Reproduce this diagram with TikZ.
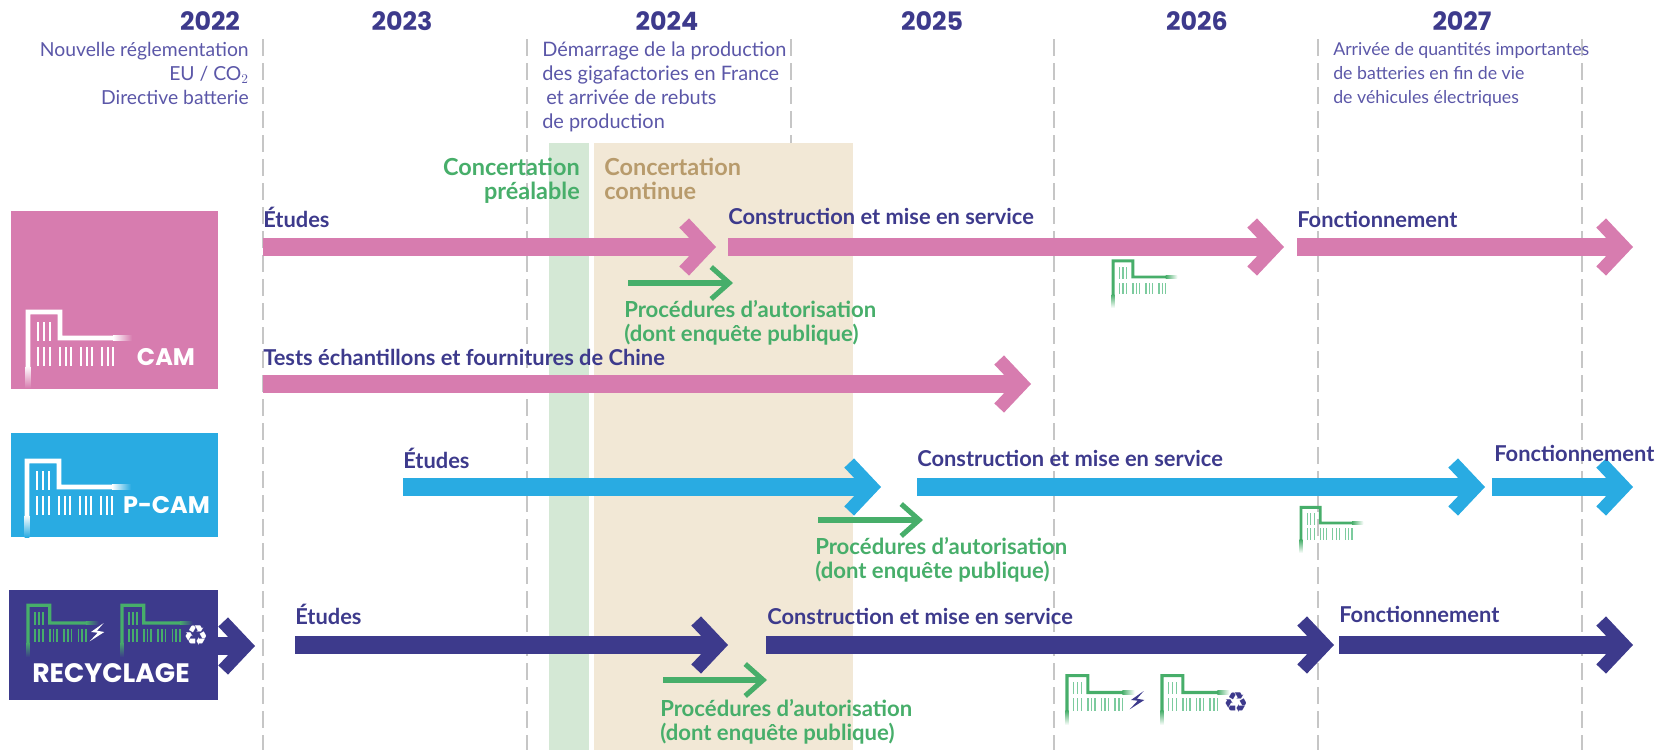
\documentclass[tikz,border=0pt]{standalone}
\usepackage{fontspec}
\usetikzlibrary{arrows.meta}
\setmainfont{Lato}
\newfontfamily\yearfont{Poppins}
\newfontfamily\symfont{DejaVu Sans}
\definecolor{camcol}{HTML}{D77CAF}
\definecolor{pcamcol}{HTML}{29ABE2}
\definecolor{navycol}{HTML}{3D3A8C}
\definecolor{greencol}{HTML}{47AE6A}
\definecolor{barcol}{HTML}{7CCB9E}
\definecolor{tancol}{HTML}{B89B6C}
\definecolor{notecol}{HTML}{5B57A8}
\definecolor{preacol}{HTML}{D4E8D5}
\definecolor{contcol}{HTML}{F2E8D6}
\tikzset{
  yearlabel/.style={font=\yearfont\bfseries\fontsize{19}{20}\selectfont,text=navycol,inner sep=0pt},
  notelabel/.style={font=\fontsize{14.5}{18}\selectfont,text=notecol,inner sep=0pt,align=left},
  steplabel/.style={anchor=west,font=\fontsize{16.4}{17}\selectfont\bfseries,text=navycol,inner sep=0pt},
  proclabel/.style={anchor=north west,font=\fontsize{16.6}{17.8}\selectfont\bfseries,text=greencol,inner sep=0pt,align=left},
  conclabel/.style={font=\fontsize{17.6}{17.5}\selectfont\bfseries,inner sep=0pt},
  boxlabel/.style={font=\yearfont\bfseries\fontsize{18}{20}\selectfont,text=white,inner sep=0pt},
  yearline/.style={draw=gray!45,line width=1pt,dash pattern=on 12.5pt off 5.5pt},
  phase/.style={line width=13.5pt,-{Straight Barb[length=17pt,width=36pt,line width=10pt]}},
  proc/.style={draw=greencol,line width=5pt,-{Straight Barb[length=13.5pt,width=24pt,line width=3.8pt]}},
  pics/factory/.style args={#1/#2/#3}{code={
    \fill[#1] (-2.4,22) -- (-2.4,78.4) -- (34.4,78.4) -- (34.4,52.4) -- (85,52.4) -- (85,47.6) -- (29.6,47.6) -- (29.6,73.6) -- (2.4,73.6) -- (2.4,22) -- cycle;
    \shade[top color=#1,bottom color=#3] (-2.4,22) rectangle (2.4,0);
    \shade[left color=#1,right color=#3] (85,52.4) rectangle (104,47.6);
    \foreach \barx in {10.3,16.3,22} \fill[#2] (\barx-1.1,66) rectangle (\barx+1.1,47);
    \foreach \barx in {10.3,16.3,22,32,37.7,43,53,58.7,64,74,79.7,85} \fill[#2] (\barx-1.1,41) rectangle (\barx+1.1,22);
  }},
  pics/boltmark/.style={code={
    \fill[#1] (6.7,9) -- (-6,0) -- (0.7,-0.7) -- (-7.3,-9.3) -- (7.3,0) -- (0,1.3) -- cycle;
  }},
}
\begin{document}
\begin{tikzpicture}[x=0.75pt,y=0.75pt,yscale=-1,xscale=1]
\useasboundingbox (0,0) rectangle (1656,750);
% year lines and concertation bands
\foreach \linex in {263,527,791,1054,1318,1582}
  \draw[yearline] (\linex,39) -- (\linex,750);
\fill[preacol] (549,143) rectangle (589,750);
\fill[contcol] (594,143) rectangle (853,750);
% years
\foreach \yearx/\yearname in {210/2022,402/2023,667/2024,932/2025,1197/2026,1462/2027}
  \node[yearlabel] (y\yearname) at (\yearx,21) {\yearname};
% notes
\node[notelabel,anchor=north east,align=right] (noteReg) at (249,42) {Nouvelle réglementation\\EU / CO$_2$\\Directive batterie};
\node[notelabel,anchor=north west,font=\fontsize{14.95}{18}\selectfont] (noteGiga) at (542,42) {Démarrage de la production\\des gigafactories en France\\\hspace*{3pt}et arrivée de rebuts\\de production};
\node[notelabel,anchor=north west,font=\fontsize{13.3}{18}\selectfont] (noteVie) at (1333,42) {Arrivée de quantités importantes\\de batteries en fin de vie\\de véhicules électriques};
\node[conclabel,anchor=north east,align=right,text=greencol] (concPre) at (580,158) {Concertation\\préalable};
\node[conclabel,anchor=north west,align=left,text=tancol] (concCont) at (604,158) {Concertation\\continue};
% category boxes
\draw[navycol,phase] (215,646) -- (255,646);
\fill[camcol] (11,211) rectangle (218,389);
\fill[pcamcol] (11,433) rectangle (218,537);
\fill[navycol] (9,590) rectangle (218,700);
\pic at (28,388) {factory={white/white/camcol}};
\pic at (27,537) {factory={white/white/pcamcol}};
\pic[scale=.68] at (28,657) {factory={greencol/greencol/navycol}};
\pic[scale=.68] at (122,657) {factory={greencol/greencol/navycol}};
\node[boxlabel] (boxCam) at (166,357) {CAM};
\node[boxlabel] (boxPcam) at (166.5,505) {P-CAM};
\node[boxlabel,font=\yearfont\bfseries\fontsize{20}{20}\selectfont] (boxRec) at (111,673) {RECYCLAGE};
\pic at (97,632) {boltmark=white};
\node[text=white,inner sep=0pt,font=\symfont\fontsize{21}{21}\selectfont] (cycleA) at (196,636) {♻};
% phase ends
\foreach \ptname/\ptx/\pty in {camA/263/247,camB/716/247,camC/728/247,camD/1284/247,camE/1297/247,camF/1633/247,
  testA/263/384,testB/1031/384,
  pcamA/403/487,pcamB/881/487,pcamC/917/487,pcamD/1485/487,pcamE/1492/487,pcamF/1633/487,
  recA/295/645,recB/728/645,recC/766/645,recD/1334/645,recE/1339/645,recF/1633/645,
  procA/628/283,procB/733/283,procC/818/520,procD/923/520,procE/663/680,procF/767/680}
  \coordinate (\ptname) at (\ptx,\pty);
% phases
\draw[camcol,phase] (camA) -- (camB);
\draw[camcol,phase] (camC) -- (camD);
\draw[camcol,phase] (camE) -- (camF);
\draw[camcol,phase] (testA) -- (testB);
\draw[pcamcol,phase] (pcamA) -- (pcamB);
\draw[pcamcol,phase] (pcamC) -- (pcamD);
\draw[pcamcol,phase] (pcamE) -- (pcamF);
\draw[navycol,phase] (recA) -- (recB);
\draw[navycol,phase] (recC) -- (recD);
\draw[navycol,phase] (recE) -- (recF);
\draw[proc] (procA) -- (procB);
\draw[proc] (procC) -- (procD);
\draw[proc] (procE) -- (procF);
% phase labels
\node[steplabel] (camEt) at (263,217) {Études};
\node[steplabel] (camCo) at (728,216) {Construction et mise en service};
\node[steplabel] (camFo) at (1297,219) {Fonctionnement};
\node[steplabel] (testLb) at (263,357) {Tests échantillons et fournitures de Chine};
\node[steplabel] (pcamEt) at (403,458) {Études};
\node[steplabel] (pcamCo) at (917,458) {Construction et mise en service};
\node[steplabel] (pcamFo) at (1494,453) {Fonctionnement};
\node[steplabel] (recEt) at (295,614) {Études};
\node[steplabel] (recCo) at (767,616) {Construction et mise en service};
\node[steplabel] (recFo) at (1339,614) {Fonctionnement};
\node[proclabel] (procCam) at (624,300) {Procédures d’autorisation\\(dont enquête publique)};
\node[proclabel] (procPcam) at (815,537) {Procédures d’autorisation\\(dont enquête publique)};
\node[proclabel] (procRec) at (660,699) {Procédures d’autorisation\\(dont enquête publique)};
% small plants
\pic[scale=.62] at (1113,308) {factory={greencol/barcol/white}};
\pic[scale=.6] at (1301,553) {factory={greencol/barcol/white}};
\pic[scale=.65] at (1067,725) {factory={greencol/barcol/white}};
\pic[scale=.65] at (1162,725) {factory={greencol/barcol/white}};
\pic at (1137,700) {boltmark=navycol};
\node[text=navycol,inner sep=0pt,font=\symfont\fontsize{21}{21}\selectfont] (cycleB) at (1236,703) {♻};
\end{tikzpicture}
\end{document}
